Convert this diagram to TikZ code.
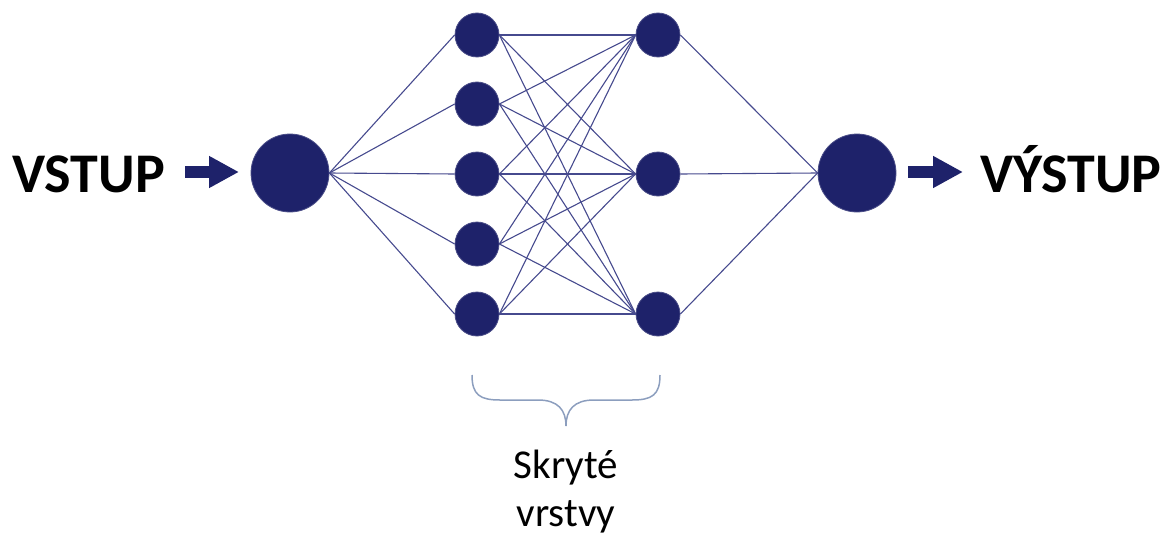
\documentclass[tikz,border=0pt]{standalone}
\usepackage{fontspec}
\setmainfont{Carlito}
\usetikzlibrary{arrows.meta}
\definecolor{navy}{RGB}{30,34,106}
\definecolor{edgec}{RGB}{70,74,142}
\definecolor{bracec}{RGB}{140,158,190}
\begin{document}
\begin{tikzpicture}[x=1pt,y=-1pt,
  neuron/.style={circle,fill=navy,draw=navy!80!white,line width=0.8pt,inner sep=0pt,minimum size=#1},
  neuron/.default=44pt,
  link/.style={draw=edgec,line width=1.1pt},
  bigarrow/.style={draw=navy,line width=12pt,-{Triangle[width=30pt,length=30pt]}},
  title/.style={font=\bfseries\fontsize{56}{60}\selectfont,inner sep=0pt},
  note/.style={font=\fontsize{41}{46}\selectfont,inner sep=0pt,anchor=base}]
\useasboundingbox (0,0) rectangle (1164,535);

\node[neuron=78pt] (in) at (290,173) {};
\node[neuron=78pt] (out) at (857,173) {};
\foreach \i/\y in {1/35,2/104,3/174,4/244,5/314}
  \node[neuron] (a\i) at (477,\y) {};
\foreach \j/\y in {1/35,2/174,3/314}
  \node[neuron] (b\j) at (658,\y) {};

\foreach \i in {1,...,5}{
  \draw[link] (in.east) -- (a\i.west);
  \foreach \j in {1,2,3}
    \draw[link] (a\i.east) -- (b\j.west);
}
\foreach \j in {1,2,3}
  \draw[link] (b\j.east) -- (out.west);

\node[title,anchor=base west] (vin) at (12,192) {VSTUP};
\node[title,anchor=base west] (vout) at (980,192) {VÝSTUP};

\coordinate (ia) at (185,172);
\coordinate (ib) at (239,172);
\coordinate (oa) at (908,172);
\coordinate (ob) at (963,172);
\draw[bigarrow] (ia) -- (ib);
\draw[bigarrow] (oa) -- (ob);

\draw[bracec,line width=1.5pt] (472,375) .. controls (472,395) and (480,400) .. (500,400)
  -- (538,400) .. controls (558,400) and (566,410) .. (566,426)
  .. controls (566,410) and (574,400) .. (594,400)
  -- (632,400) .. controls (652,400) and (660,395) .. (660,375);

\node[note] (s1) at (566,478) {Skryté};
\node[note] (s2) at (566,526) {vrstvy};
\end{tikzpicture}
\end{document}
